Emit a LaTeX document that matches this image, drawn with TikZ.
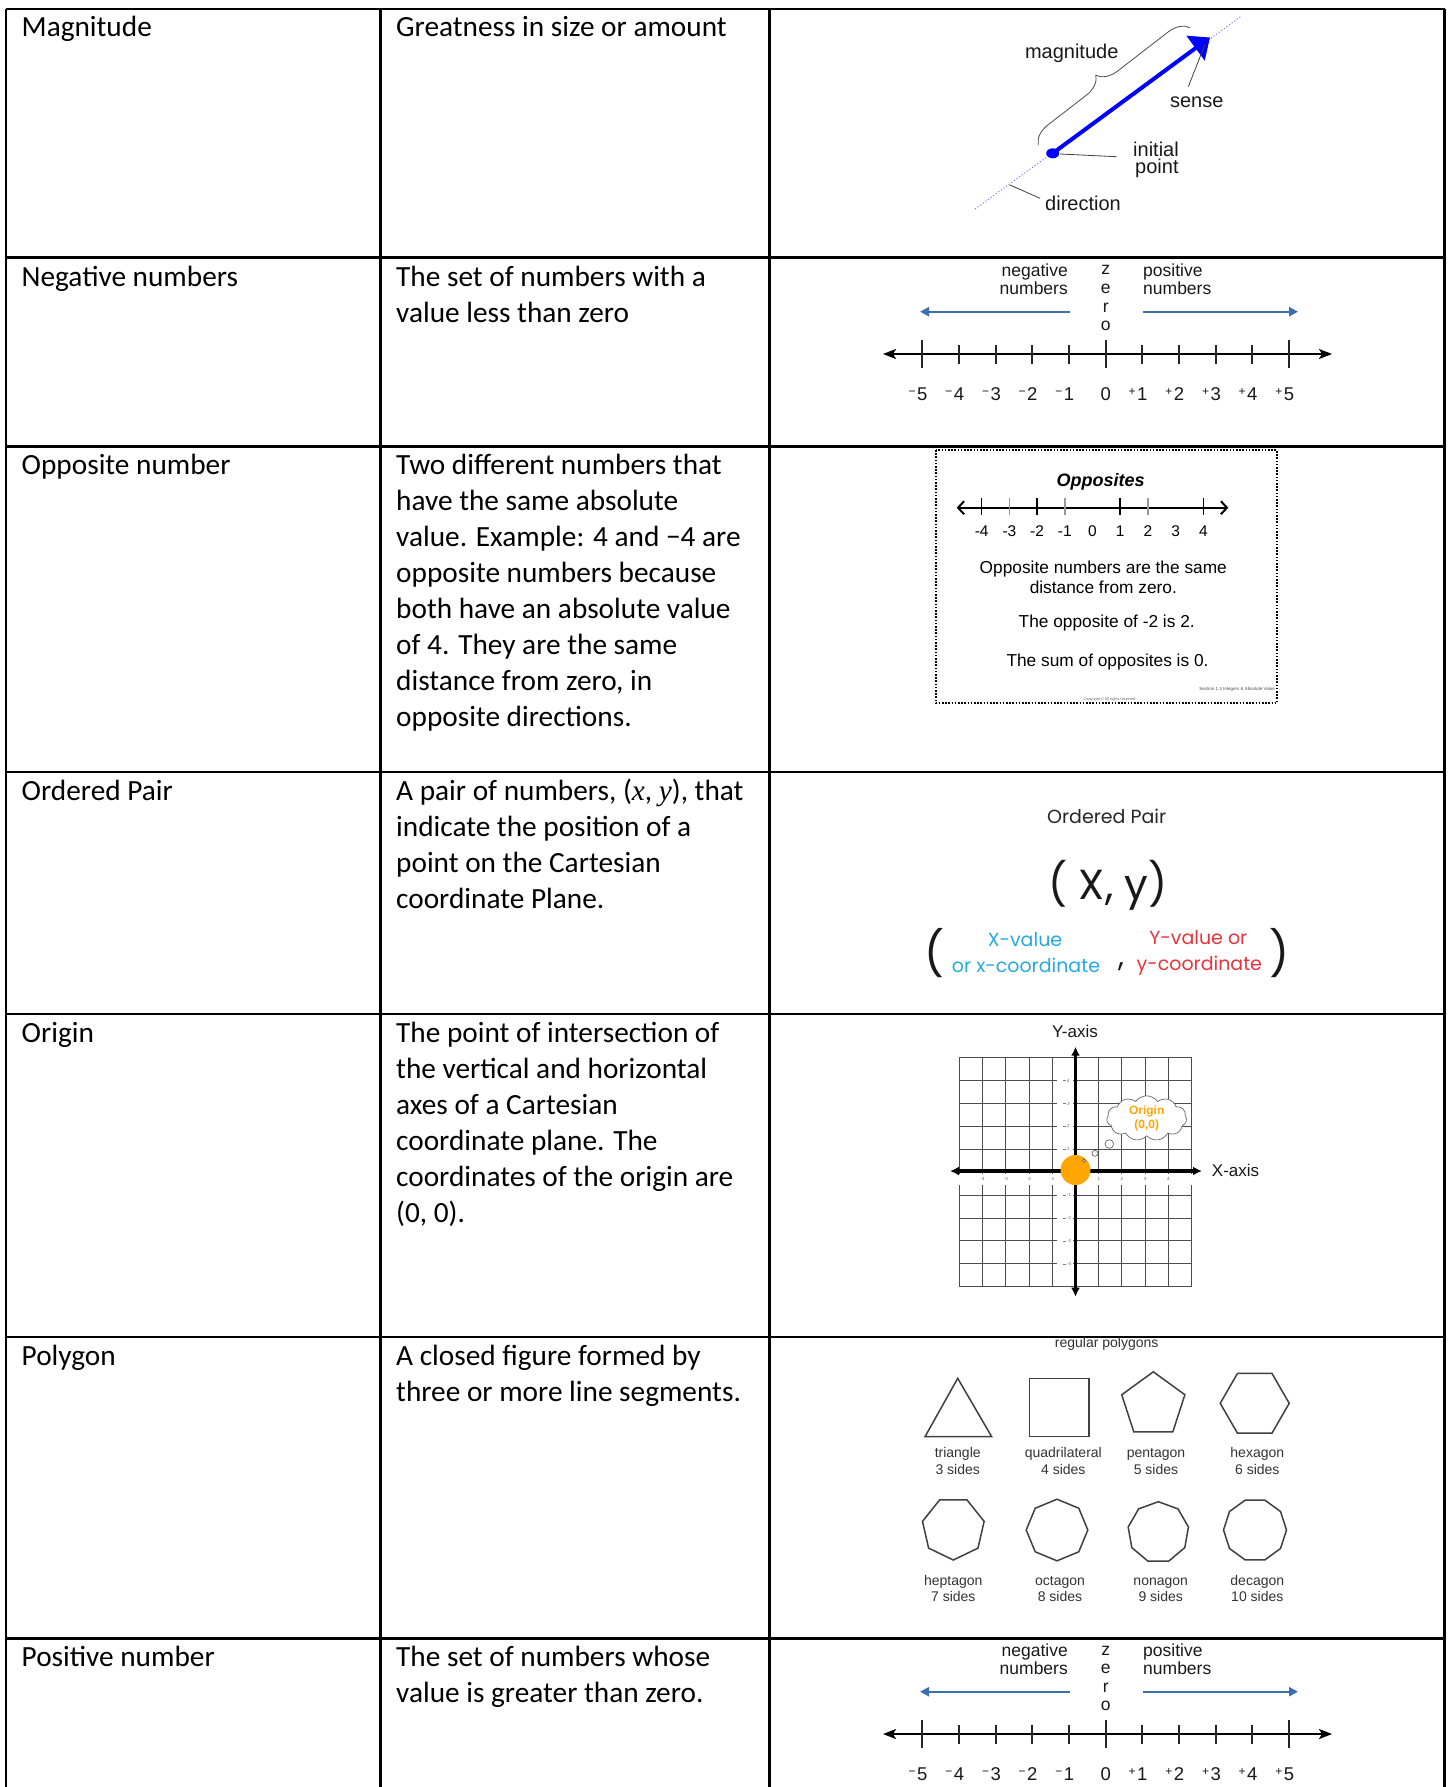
\documentclass[tikz,border=0pt]{standalone}
\usepackage{fontspec}
\usepackage{graphicx}
\setmainfont{Carlito}
\newfontfamily\arialf{Liberation Sans}
\newfontfamily\gothf{Poppins}
\newfontfamily\serf{Liberation Serif}
\usetikzlibrary{arrows.meta,decorations.pathreplacing,shapes.geometric,shapes.symbols}
\definecolor{nlblue}{RGB}{62,110,178}
\definecolor{opcyan}{RGB}{38,170,225}
\definecolor{opred}{RGB}{232,52,60}
\definecolor{orig}{RGB}{255,166,0}
\newcommand\fs[1]{\fontsize{#1}{#1}\selectfont}
\newcommand\mi[1]{{\serf\itshape #1}}
\newcommand\celltext[4]{%
  \foreach \t [count=\i from 0] in {#4} {\node[cell] (#1\i) at (#2,{#3+36*\i}) {\t};}}
\newcommand\numline[1]{%
  \coordinate (#1L) at (883,354); \coordinate (#1R) at (1332,354);
  \draw[line width=2pt, {Stealth[length=13pt,width=10pt,inset=3pt]}-{Stealth[length=13pt,width=10pt,inset=3pt]}] (#1L) -- (#1R);
  \foreach \k/\s/\d in {0/−/5,1/−/4,2/−/3,3/−/2,4/−/1,5/{}/0,6/+/1,7/+/2,8/+/3,9/+/4,10/+/5}{
    \pgfmathsetmacro\xx{922.3+36.67*\k}
    \ifnum\k=0 \def\ta{340}\def\tb{368}\else\ifnum\k=5 \def\ta{340}\def\tb{368}\else\ifnum\k=10 \def\ta{340}\def\tb{368}\else\def\ta{345}\def\tb{364}\fi\fi\fi
    \draw[line width=2pt, black!85] (\xx,\ta) -- (\xx,\tb);
    \node[nlf, font=\arialf\fs{18.5}, anchor=base] (#1n\k) at (\xx,400.5) {\makebox[0pt][r]{\raisebox{5.5pt}{\fs{12}\s}\hspace{1.5pt}}\d};
  }
  \coordinate (#1a1) at (1070,311.7); \coordinate (#1a2) at (920,311.7);
  \coordinate (#1b1) at (1143,311.7); \coordinate (#1b2) at (1298,311.7);
  \draw[nlarrow] (#1a1) -- (#1a2);
  \draw[nlarrow] (#1b1) -- (#1b2);
  \node[nlf, anchor=base east] (#1neg1) at (1068,276.7) {negative};
  \node[nlf, anchor=base east] (#1neg2) at (1068,294.3) {numbers};
  \node[nlf, anchor=base west] (#1pos1) at (1143,276.7) {positive};
  \node[nlf, anchor=base west] (#1pos2) at (1143,294.3) {numbers};
  \node[nlf, anchor=base] (#1z1) at (1105.7,275) {z};
  \node[nlf, anchor=base] (#1z2) at (1105.7,293.5) {e};
  \node[nlf, anchor=base] (#1z3) at (1105.7,312) {r};
  \node[nlf, anchor=base] (#1z4) at (1105.7,330.5) {o};
}
\begin{document}
\begin{tikzpicture}[x=1pt,y=-1pt,
  tbl/.style={line width=2.2pt, black},
  cell/.style={anchor=base west, inner sep=0, font=\fontsize{29.3}{36}\selectfont},
  magf/.style={font=\arialf\fs{20}, inner sep=0, text=black!90},
  lead/.style={black!75, line width=0.8pt},
  nlf/.style={font=\arialf\fs{17.5}, inner sep=0, text=black!90},
  nlarrow/.style={nlblue, line width=2.4pt, -{Triangle[length=9pt,width=9pt]}},
  opf/.style={font=\arialf\fs{17.3}, inner sep=0, anchor=base},
  gf/.style={font=\gothf\fs{19}, inner sep=0, anchor=base},
  pl/.style={font=\arialf\fs{14}, inner sep=0, anchor=base, text=black!80},
  poly/.style={regular polygon, draw=black!75, line width=1.5pt, inner sep=0, outer sep=0},
  gridl/.style={black!70, line width=1pt},
  tiny/.style={font=\arialf\fs{4.5}, text=black!60, inner sep=0}]
\useasboundingbox (0,0) rectangle (1452,1787);
\fill[white] (0,0) rectangle (1452,1787);

% ---------- table grid ----------
\foreach \y in {9.3,257.6,446.5,771.6,1014.3,1337,1638.5}
  \draw[tbl] (6,\y) -- (1444.5,\y);
\foreach \x in {6,380.5,769.5,1444.5}
  \draw[tbl] (\x,9.3) -- (\x,1787);

% ---------- column 1 ----------
\node[cell] (t1) at (21.5,36.7) {Magnitude};
\node[cell] (t2) at (21.5,286) {Negative numbers};
\node[cell] (t3) at (21.5,474) {Opposite number};
\node[cell] (t4) at (21.5,800) {Ordered Pair};
\node[cell] (t5) at (21.5,1042.5) {Origin};
\node[cell] (t6) at (21.5,1365) {Polygon};
\node[cell] (t7) at (21.5,1666.5) {Positive number};

% ---------- column 2 ----------
\celltext{da}{396}{36.7}{Greatness in size or amount}
\celltext{db}{396}{286}{The set of numbers with a, value less than zero}
\celltext{dc}{396}{474}{Two different numbers that, have the same absolute, value. Example: 4 and −4 are, opposite numbers because, both have an absolute value, of 4. They are the same, {distance from zero, in}, opposite directions.}
\celltext{dd}{396}{800}{{A pair of numbers, (\mi{x}, \mi{y}), that}, indicate the position of a, point on the Cartesian, coordinate Plane.}
\celltext{de}{396}{1042.5}{The point of intersection of, the vertical and horizontal, axes of a Cartesian, coordinate plane. The, coordinates of the origin are, {(0, 0).}}
\celltext{df}{396}{1365}{A closed figure formed by, three or more line segments.}
\celltext{dg}{396}{1666.5}{The set of numbers whose, value is greater than zero.}

% ---------- magnitude ----------
\coordinate (dl1) at (975,209); \coordinate (dl2) at (1242,15.7);
\draw[blue!55, line width=0.9pt, dash pattern=on 1.2pt off 2pt] (dl1) -- (dl2);
\coordinate (ip) at (1052.7,153.3); \coordinate (tip) at (1210,37.5);
\draw[blue, line width=4pt, -{Triangle[length=18pt,width=30pt]}] (ip) -- (tip);
\fill[blue] (ip) ellipse [x radius=6.5pt, y radius=5pt];
\coordinate (b1) at (1038.3,145); \coordinate (b2) at (1190,27.7);
\draw[black!70, line width=0.8pt, decorate, decoration={brace, amplitude=20pt, aspect=0.46}] (b1) -- (b2);
\node[magf] (mag) at (1071.7,53.3) {magnitude};
\node[magf] (sense) at (1196.7,102.7) {sense};
\node[magf, anchor=base west] (init1) at (1133,157) {initial};
\node[magf, anchor=base west] (init2) at (1135,173.5) {point};
\node[magf, anchor=west] (dir) at (1045,203) {direction};
\coordinate (s1) at (1188.3,86.7); \coordinate (s2) at (1205,44.3);
\draw[lead] (s1) -- (s2);
\coordinate (i1) at (1060,154); \coordinate (i2) at (1116.7,156.7);
\draw[lead] (i1) -- (i2);
\coordinate (d1) at (1010,185); \coordinate (d2) at (1040,198.3);
\draw[lead] (d1) -- (d2);

% ---------- negative numbers ----------
\numline{n}

% ---------- opposites ----------
\draw[line width=2pt, dash pattern=on 1.6pt off 1.6pt] (936,450) rectangle (1276.7,703.3);
\node[font=\arialf\bfseries\itshape\fs{18}, inner sep=0, anchor=base] (opt) at (1100.5,486.7) {Opposites};
\coordinate (oL) at (956.7,507.7); \coordinate (oR) at (1228.3,507.7);
\draw[line width=2pt, {Straight Barb[length=6pt,width=13pt]}-{Straight Barb[length=6pt,width=13pt]}] (oL) -- (oR);
\foreach \k/\c in {0/black,1/black!40,2/black,3/black!40,5/black,6/black!40,8/black}
  \draw[line width=1.5pt, \c] ({981.7+27.7*\k},498) -- ({981.7+27.7*\k},515);
\foreach \k/\l in {0/-4,1/-3,2/-2,3/-1,4/0,5/1,6/2,7/3,8/4}
  \node[font=\arialf\fs{15.5}, inner sep=0, anchor=base] (ol\k) at ({981.7+27.7*\k},536.7) {\l};
\node[opf] (op1) at (1103.3,573.3) {Opposite numbers are the same};
\node[opf] (op2) at (1103.3,593.3) {distance from zero.};
\node[opf] (op3) at (1106.7,627.7) {The opposite of -2 is 2.};
\node[opf] (op4) at (1107.5,666) {The sum of opposites is 0.};
\node[tiny, anchor=base east, text=black!70] (sec) at (1275,690) {Section 1.3 Integers \& Absolute Value};
\node[tiny, anchor=base, font=\arialf\fs{3.8}] (copy) at (1110,700) {Copyright © All rights reserved.};

% ---------- ordered pair ----------
\node[font=\gothf\fs{19}, inner sep=0, text=black!85] (opair) at (1106.7,816) {Ordered Pair};
\node[font=\gothf\fs{42}, inner sep=0, text=black!90] (xy) at (1108,885) {( X, y)};
\node[font=\gothf\fs{44}, inner sep=0, text=black!90] (lp) at (934,952.7) {(};
\node[font=\gothf\fs{44}, inner sep=0, text=black!90] (rp) at (1279,952.7) {)};
\node[gf, text=opcyan] (xv1) at (1025,946.7) {X-value};
\node[gf, text=opcyan] (xv2) at (1026,972.7) {or x-coordinate};
\node[gf, text=opred] (yv1) at (1198.3,944.3) {Y-value or};
\node[gf, text=opred] (yv2) at (1199.3,970) {y-coordinate};
\node[font=\gothf\fs{30}, inner sep=0, anchor=base, text=black!90] (cm) at (1121,966) {,};

% ---------- origin ----------
\foreach \k in {0,...,10}{
  \draw[gridl] ({959.3+23.24*\k},1057.7) -- ({959.3+23.24*\k},1286.7);
  \draw[gridl] (959.3,{1057.7+22.9*\k}) -- (1191.7,{1057.7+22.9*\k});
}
\fill[white] (959.3,1173.5) rectangle (1191.7,1185);
\fill[white] (1057,1075) rectangle (1073,1280);
\foreach \k/\l in {1/-4,2/-3,3/-2,4/-1,6/1,7/2,8/3,9/4}{
  \node[tiny] (gx\k) at ({959.3+23.24*\k},1179) {\l};
  \draw[black!50, line width=0.4pt] (1063,{1057.7+22.9*\k}) -- (1066,{1057.7+22.9*\k});
}
\foreach \k/\l in {1/4,2/3,3/2,4/1,6/-1,7/-2,8/-3,9/-4}
  \node[tiny, anchor=west] (gy\k) at (1067,{1057.7+22.9*\k}) {\l};
\coordinate (xa1) at (950,1171); \coordinate (xa2) at (1202,1171);
\coordinate (ya1) at (1075.5,1046.7); \coordinate (ya2) at (1075.5,1296.7);
\draw[line width=3.5pt, {Latex[length=9pt,width=9pt]}-{Latex[length=9pt,width=9pt]}] (xa1) -- (xa2);
\draw[line width=3.5pt, {Latex[length=9pt,width=9pt]}-{Latex[length=9pt,width=9pt]}] (ya1) -- (ya2);
\node[circle, fill=orig, minimum size=30pt, inner sep=0] (odot) at (1075.5,1170) {};
\node[circle, draw=black!60, fill=white, minimum size=3pt, inner sep=0, line width=0.7pt] (bub1) at (1084,1160.7) {};
\node[circle, draw=black!60, fill=white, minimum size=6pt, inner sep=0, line width=0.7pt] (bub2) at (1095,1153.3) {};
\node[circle, draw=black!60, fill=white, minimum size=8.6pt, inner sep=0, line width=0.7pt] (bub3) at (1109.3,1144) {};
\node[cloud, cloud puffs=11, cloud puff arc=110, aspect=1.8, draw=black!60, fill=white, minimum width=80pt, minimum height=45pt, inner sep=0, line width=0.7pt, align=center, font=\arialf\bfseries\fs{12}, text=orig] (cloud) at (1146.7,1118.3) {Origin\\[1.3pt](0,0)};
\node[font=\arialf\fs{17}, inner sep=0, text=black!90] (yax) at (1075,1031.7) {Y-axis};
\node[font=\arialf\fs{17}, inner sep=0, anchor=west, text=black!90] (xax) at (1211.7,1170) {X-axis};

% ---------- polygons ----------
\node[pl, anchor=center] (rp0) at (1106.7,1343.8) {regular polygons};
\coordinate (tr1) at (925,1436.7); \coordinate (tr2) at (991.7,1436.7); \coordinate (tr3) at (957.7,1378.3);
\draw[black!75, line width=1.5pt, line join=miter] (tr1) -- (tr2) -- (tr3) -- cycle;
\draw[black!75, line width=1.5pt] (1029.3,1378.3) rectangle (1089,1436.7);
\node[poly, regular polygon sides=5, minimum size=66.4pt] (pent) at (1153.3,1405) {};
\node[poly, regular polygon sides=6, minimum size=69pt] (hexa) at (1254.7,1403.3) {};
\node[poly, regular polygon sides=7, minimum size=63.2pt, shape border rotate=180] (hept) at (953.3,1528.4) {};
\node[poly, regular polygon sides=8, minimum size=61.6pt, shape border rotate=22.5] (octa) at (1057,1530) {};
\node[poly, regular polygon sides=9, minimum size=61.2pt] (nona) at (1158.3,1532.3) {};
\node[poly, regular polygon sides=10, minimum size=63pt] (deca) at (1255,1530) {};
\node[pl] (l3a) at (957.7,1457.3) {triangle};
\node[pl] (l3b) at (957.7,1474) {3 sides};
\node[pl] (l4a) at (1063.3,1457.3) {quadrilateral};
\node[pl] (l4b) at (1063.3,1474) {4 sides};
\node[pl] (l5a) at (1156,1457.3) {pentagon};
\node[pl] (l5b) at (1156,1474) {5 sides};
\node[pl] (l6a) at (1257.3,1457.3) {hexagon};
\node[pl] (l6b) at (1257.3,1474) {6 sides};
\node[pl] (l7a) at (953.3,1585) {heptagon};
\node[pl] (l7b) at (953.3,1601.7) {7 sides};
\node[pl] (l8a) at (1060,1585) {octagon};
\node[pl] (l8b) at (1060,1601.7) {8 sides};
\node[pl] (l9a) at (1160.7,1585) {nonagon};
\node[pl] (l9b) at (1160.7,1601.7) {9 sides};
\node[pl] (l10a) at (1257.3,1585) {decagon};
\node[pl] (l10b) at (1257.3,1601.7) {10 sides};

% ---------- positive numbers ----------
\begin{scope}[yshift=-1380pt]
\numline{p}
\end{scope}
\end{tikzpicture}
\end{document}
